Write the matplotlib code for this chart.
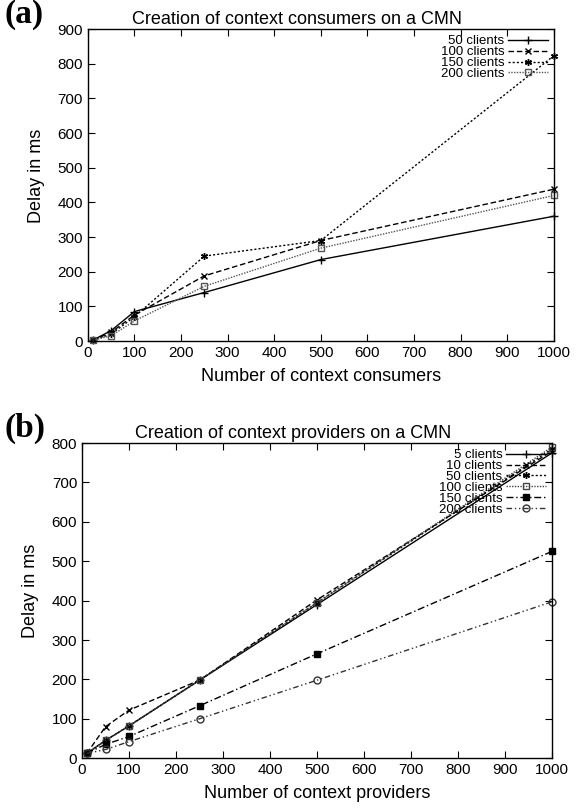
import matplotlib.pyplot as plt
from matplotlib.ticker import MultipleLocator

# (a) creation of context consumers
consumers = [10, 50, 100, 250, 500, 1000]
cons_labels = ["50 clients", "100 clients", "150 clients", "200 clients"]
cons_50 = [2, 30, 85, 140, 235, 360]
cons_100 = [2, 25, 75, 188, 290, 438]
cons_150 = [2, 20, 70, 245, 290, 823]
cons_200 = [2, 15, 58, 158, 268, 420]

# (b) creation of context providers
providers = [10, 50, 100, 250, 500, 1000]
prov_labels = ["5 clients", "10 clients", "50 clients", "100 clients", "150 clients", "200 clients"]
prov_5 = [12, 45, 82, 198, 390, 775]
prov_10 = [12, 80, 122, 198, 402, 780]
prov_50 = [12, 45, 82, 198, 395, 785]
prov_100 = [12, 45, 82, 198, 395, 790]
prov_150 = [12, 35, 55, 133, 265, 525]
prov_200 = [12, 22, 42, 100, 198, 397]

plt.rcParams['font.family'] = ['Liberation Sans', 'DejaVu Sans']

styles_a = [
    dict(ls="-", marker="+", color="black", ms=6),
    dict(ls=(0, (4, 2)), marker="x", color="black", ms=5),
    dict(ls=(0, (1.5, 1.5)), marker=(6, 2, 0), color="black", ms=5),
    dict(ls=(0, (1, 1)), marker="s", mfc="none", color="#555555", ms=5),
]
styles_b = [
    dict(ls="-", marker="+", color="black", ms=6),
    dict(ls=(0, (4, 2)), marker="x", color="black", ms=5),
    dict(ls=(0, (1.5, 1.5)), marker=(6, 2, 0), color="black", ms=5),
    dict(ls=(0, (1, 1)), marker="s", mfc="none", color="#444444", ms=5),
    dict(ls=(0, (5, 2, 1, 2)), marker="s", color="black", ms=5),
    dict(ls=(0, (4, 2, 1, 2, 1, 2)), marker="o", mfc="none", color="#333333", ms=5),
]


def style_axes(ax, ymax):
    ax.set_xlim(0, 1000)
    ax.set_ylim(0, ymax)
    ax.xaxis.set_major_locator(MultipleLocator(100))
    ax.yaxis.set_major_locator(MultipleLocator(100))
    ax.tick_params(direction="in", top=True, right=True, labelsize=11, length=5, width=0.8)
    for s in ax.spines.values():
        s.set_linewidth(1.0)


fig = plt.figure(figsize=(5.78, 8.10), dpi=100)

ax1 = fig.add_axes([0.152, 0.579, 0.806, 0.385])
for ys, lab, st in zip([cons_50, cons_100, cons_150, cons_200], cons_labels, styles_a):
    ax1.plot(consumers, ys, label=lab, lw=1.0, mew=1.0, clip_on=False, **st)
style_axes(ax1, 900)
ax1.set_title("Creation of context consumers on a CMN", fontsize=13, pad=4, x=0.45)
ax1.set_xlabel("Number of context consumers", fontsize=13, labelpad=6)
ax1.set_ylabel("Delay in ms", fontsize=13, labelpad=9, y=0.53)
ax1.legend(loc="upper right", frameon=False, markerfirst=False, fontsize=9.5,
           handlelength=3.0, labelspacing=-0.1, borderaxespad=0.05, handletextpad=0.3)
fig.text(0.008, 0.982, "(a)", fontsize=24, fontweight="bold",
         family=["Liberation Serif", "DejaVu Serif"], va="center")

ax2 = fig.add_axes([0.142, 0.064, 0.813, 0.389])
for ys, lab, st in zip([prov_5, prov_10, prov_50, prov_100, prov_150, prov_200], prov_labels, styles_b):
    ax2.plot(providers, ys, label=lab, lw=1.0, mew=1.0, clip_on=False, **st)
style_axes(ax2, 800)
ax2.set_title("Creation of context providers on a CMN", fontsize=13, pad=4, x=0.45)
ax2.set_xlabel("Number of context providers", fontsize=13, labelpad=6)
ax2.set_ylabel("Delay in ms", fontsize=13, labelpad=9, y=0.53)
ax2.legend(loc="upper right", frameon=False, markerfirst=False, fontsize=9.5,
           handlelength=3.0, labelspacing=-0.1, borderaxespad=0.05, handletextpad=0.3)
fig.text(0.008, 0.471, "(b)", fontsize=24, fontweight="bold",
         family=["Liberation Serif", "DejaVu Serif"], va="center")

fig.savefig("out.png", dpi=100)
